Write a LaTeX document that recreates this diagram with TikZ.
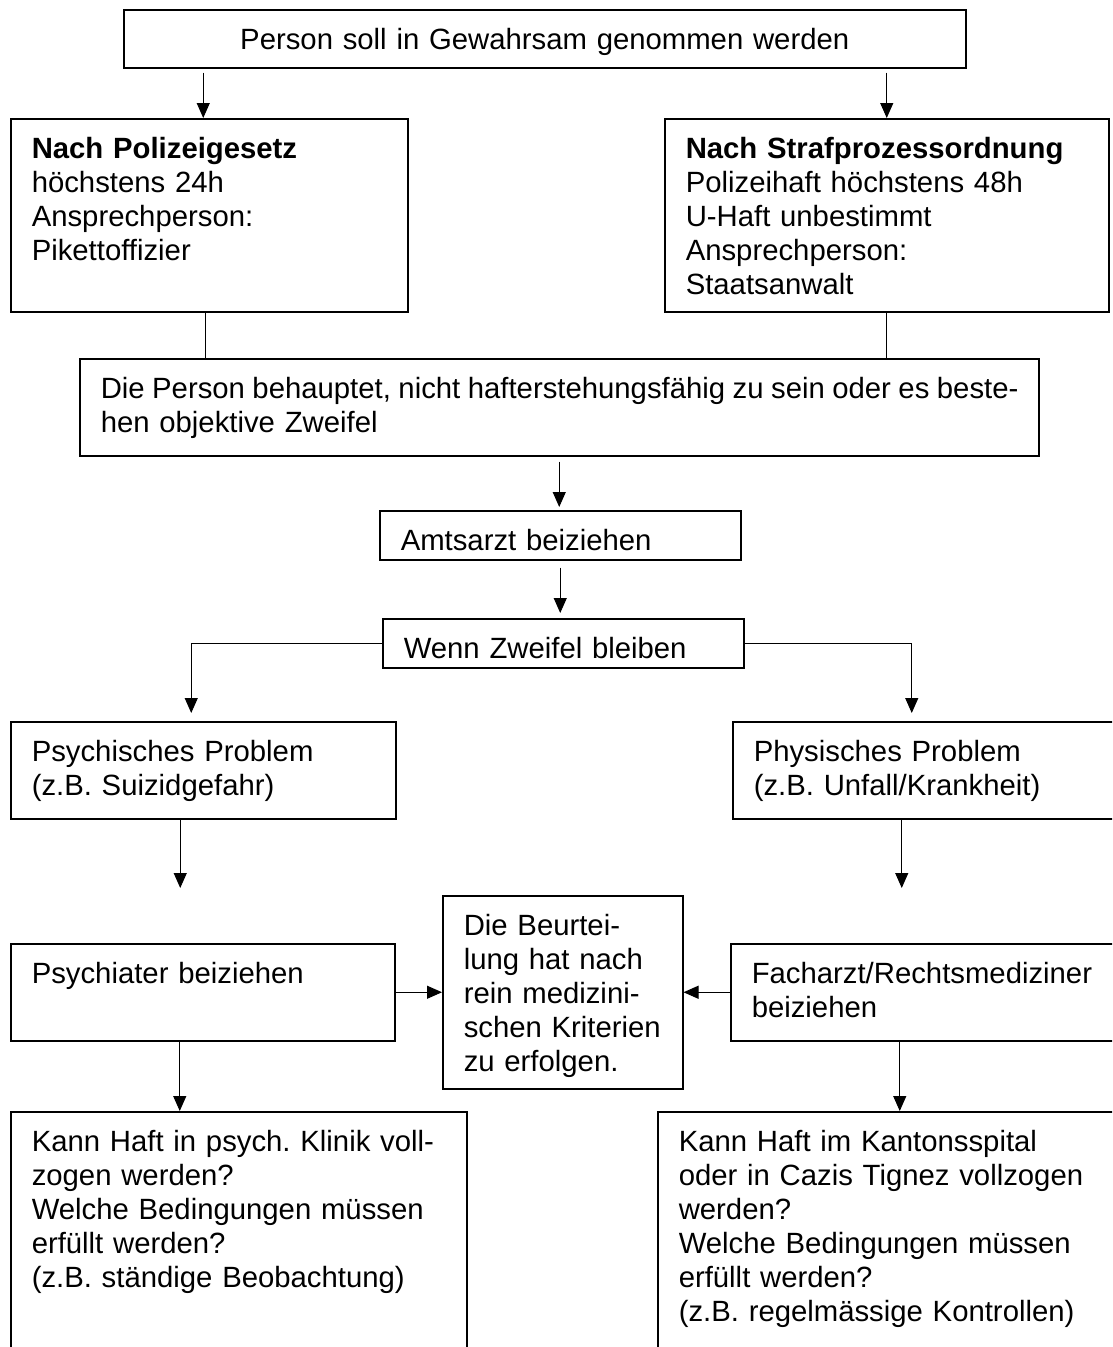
\documentclass[tikz,border=0pt]{standalone}
\usepackage{fontspec}
\setmainfont{Liberation Sans}
\usetikzlibrary{arrows.meta,positioning}
\tikzset{
  flowbox/.style={
    rectangle, draw=black, line width=1.5pt, anchor=north west,
    align=left, inner xsep=21pt, inner ysep=0pt, text height=40pt,
    font=\fontsize{29.3}{34}\selectfont\frenchspacing
  },
  arrow/.style={-{Triangle[length=15pt,width=13pt]}, line width=1pt, draw=black},
  link/.style={line width=1pt, draw=black}
}

\begin{document}
\begin{tikzpicture}[x=1pt,y=-1pt]
  \clip (0,0) rectangle (1112,1347);

  \node[flowbox, text width=800pt, align=center, text depth=18pt] (start) at (123,9)
    {Person soll in Gewahrsam genommen werden};

  \node[flowbox, text width=355pt, text depth=153pt] (polizei) at (10,118)
    {\textbf{Nach Polizeigesetz}\\ höchstens 24h\\ Ansprechperson:\\ Pikettoffizier};
  \node[flowbox, text width=402pt, text depth=153pt] (strafp) at (664,118)
    {\textbf{Nach Strafprozessordnung}\\ Polizeihaft höchstens 48h\\ U-Haft unbestimmt\\ Ansprechperson:\\ Staatsanwalt};

  \node[flowbox, text width=917pt, text depth=57pt] (zweifel) at (79,358)
    {\makebox[\linewidth][l]{\spaceskip=7.5pt Die Person behauptet, nicht hafterstehungsfähig zu sein oder es beste-}\\ hen objektive Zweifel};

  \node[flowbox, text width=319pt, text depth=9pt] (amtsarzt) at (379,510) {Amtsarzt beiziehen};
  \node[flowbox, text width=319pt, text depth=9pt] (wenn) at (382,618) {Wenn Zweifel bleiben};

  \node[flowbox, text width=343pt, text depth=57pt] (psych) at (10,721)
    {Psychisches Problem\\ (z.B. Suizidgefahr)};
  \node[flowbox, text width=358pt, text depth=57pt] (phys) at (732,721)
    {Physisches Problem\\ (z.B. Unfall/Krankheit)};

  \node[flowbox, text width=342pt, text depth=57pt] (psychiater) at (10,943) {Psychiater beiziehen};
  \node[flowbox, text width=198pt, text depth=153pt] (beurteilung) at (442,895)
    {Die Beurtei-\\ lung hat nach\\ rein medizini-\\ schen Kriterien\\ zu erfolgen.};
  \node[flowbox, text width=358pt, text depth=57pt] (facharzt) at (730,943)
    {Facharzt/Rechtsmediziner\\ beiziehen};

  \node[flowbox, text width=414pt, text depth=260pt] (klinik) at (10,1111)
    {Kann Haft in psych. Klinik voll-\\ zogen werden?\\ Welche Bedingungen müssen\\ erfüllt werden?\\ (z.B. ständige Beobachtung)};
  \node[flowbox, text width=428pt, text depth=260pt] (spital) at (657,1111)
    {Kann Haft im Kantonsspital\\ oder in Cazis Tignez vollzogen\\ werden?\\ Welche Bedingungen müssen\\ erfüllt werden?\\ (z.B. regelmässige Kontrollen)};

  % connectors
  \draw[arrow, shorten <=4pt] ([xshift=-6pt]polizei.north |- start.south) -- ([xshift=-6pt]polizei.north);
  \draw[arrow, shorten <=4pt] (strafp.north |- start.south) -- (strafp.north);
  \draw[link] ([xshift=-4pt]polizei.south) -- ([xshift=-4pt]polizei.south |- zweifel.north);
  \draw[link] (strafp.south) -- (strafp.south |- zweifel.north);
  \draw[arrow, shorten <=5pt, shorten >=3pt] (zweifel.south) -- (zweifel.south |- amtsarzt.north);
  \draw[arrow, shorten <=7pt, shorten >=5pt] (amtsarzt.south) -- (amtsarzt.south |- wenn.north);
  \draw[arrow, shorten >=8pt] (wenn.west) -| ([xshift=-12pt]psych.north);
  \draw[arrow, shorten >=8pt] (wenn.east) -| ([xshift=-21pt]phys.north);
  \draw[arrow, shorten >=55pt] ([xshift=-23pt]psych.south) -- ([xshift=-23pt]psych.south |- psychiater.north);
  \draw[arrow, shorten >=55pt] ([xshift=-31pt]phys.south) -- ([xshift=-31pt]phys.south |- facharzt.north);
  \draw[arrow] (psychiater.east) -- (beurteilung.west);
  \draw[arrow] (facharzt.west) -- (beurteilung.east);
  \draw[arrow] ([xshift=-23pt]psychiater.south) -- ([xshift=-23pt]psychiater.south |- klinik.north);
  \draw[arrow] ([xshift=-31pt]facharzt.south) -- ([xshift=-31pt]facharzt.south |- spital.north);
\end{tikzpicture}
\end{document}
